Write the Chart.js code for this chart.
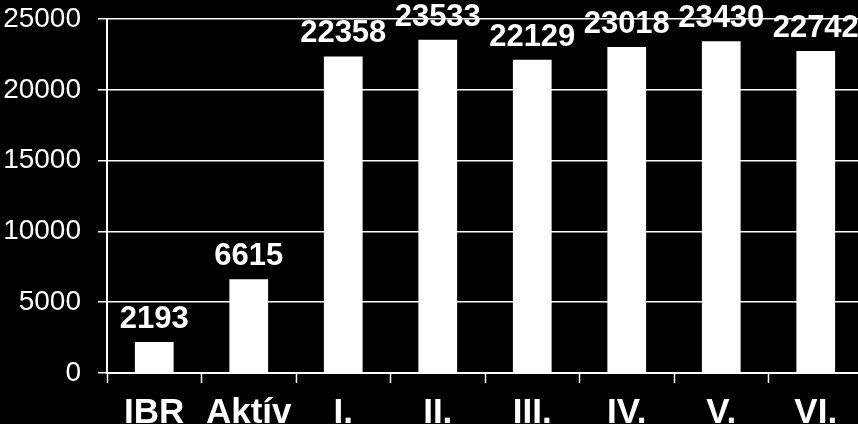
<!DOCTYPE html>
<html lang="hu">
<head>
    <meta charset="UTF-8">
    <title>Oszlopdiagram</title>
    <script src="https://cdn.jsdelivr.net/npm/chart.js"></script>
    <style>
        html, body { margin: 0; padding: 0; background: #000; overflow: hidden; }
        #wrap { position: absolute; left: 0; top: 0; width: 866px; height: 424px; }
    </style>
</head>
<body>
    <div id="wrap"><canvas id="barChart"></canvas></div>

    <script>
        // data
        const categories = ["IBR", "Aktív", "I.", "II.", "III.", "IV.", "V.", "VI."];
        const values = [2193, 6615, 22358, 23533, 22129, 23018, 23430, 22742];
        const yTicks = [0, 5000, 10000, 15000, 20000, 25000];

        const fontName = "'Liberation Sans', Arial, sans-serif";

        // numbers above the bars
        const valueLabels = {
            id: 'valueLabels',
            afterDatasetsDraw(chart) {
                const ctx = chart.ctx;
                const meta = chart.getDatasetMeta(0);
                ctx.save();
                ctx.fillStyle = '#fff';
                ctx.font = 'bold 31px ' + fontName;
                ctx.textAlign = 'center';
                ctx.textBaseline = 'alphabetic';
                meta.data.forEach((bar, i) => {
                    ctx.fillText(String(values[i]), bar.x, bar.y - 14);
                });
                ctx.restore();
            }
        };

        new Chart(document.getElementById("barChart"), {
            type: 'bar',
            data: {
                labels: categories,
                datasets: [{
                    data: values,
                    backgroundColor: '#fff',
                    borderWidth: 0,
                    barPercentage: 0.41,
                    categoryPercentage: 1
                }]
            },
            options: {
                responsive: true,
                maintainAspectRatio: false,
                animation: false,
                layout: { padding: { top: 19, right: 3, left: 0, bottom: 0 } },
                plugins: {
                    legend: { display: false },
                    tooltip: { enabled: false }
                },
                scales: {
                    x: {
                        grid: {
                            drawOnChartArea: false,
                            drawTicks: true,
                            tickLength: 10,
                            tickWidth: 1.5,
                            tickColor: '#fff',
                            offset: true
                        },
                        border: { color: '#fff', width: 2 },
                        ticks: {
                            color: '#fff',
                            padding: 9,
                            maxRotation: 0,
                            autoSkip: false,
                            font: { family: fontName, size: 35, weight: 'bold' }
                        },
                        afterFit(scale) {
                            scale.height = 51;
                            scale.paddingLeft = 0;
                            scale.paddingRight = 0;
                        }
                    },
                    y: {
                        min: 0,
                        max: 25000,
                        afterBuildTicks(scale) {
                            scale.ticks = yTicks.map(v => ({ value: v }));
                        },
                        grid: {
                            color: '#fff',
                            lineWidth: 1.5,
                            drawTicks: true,
                            tickLength: 9,
                            tickColor: '#fff'
                        },
                        border: { color: '#fff', width: 2 },
                        ticks: {
                            color: '#fff',
                            padding: 17,
                            callback: v => String(v),
                            font: { family: fontName, size: 28 }
                        },
                        afterFit(scale) {
                            scale.width = 107;
                            scale.paddingTop = 0;
                            scale.paddingBottom = 0;
                        }
                    }
                }
            },
            plugins: [valueLabels]
        });
    </script>
</body>
</html>
